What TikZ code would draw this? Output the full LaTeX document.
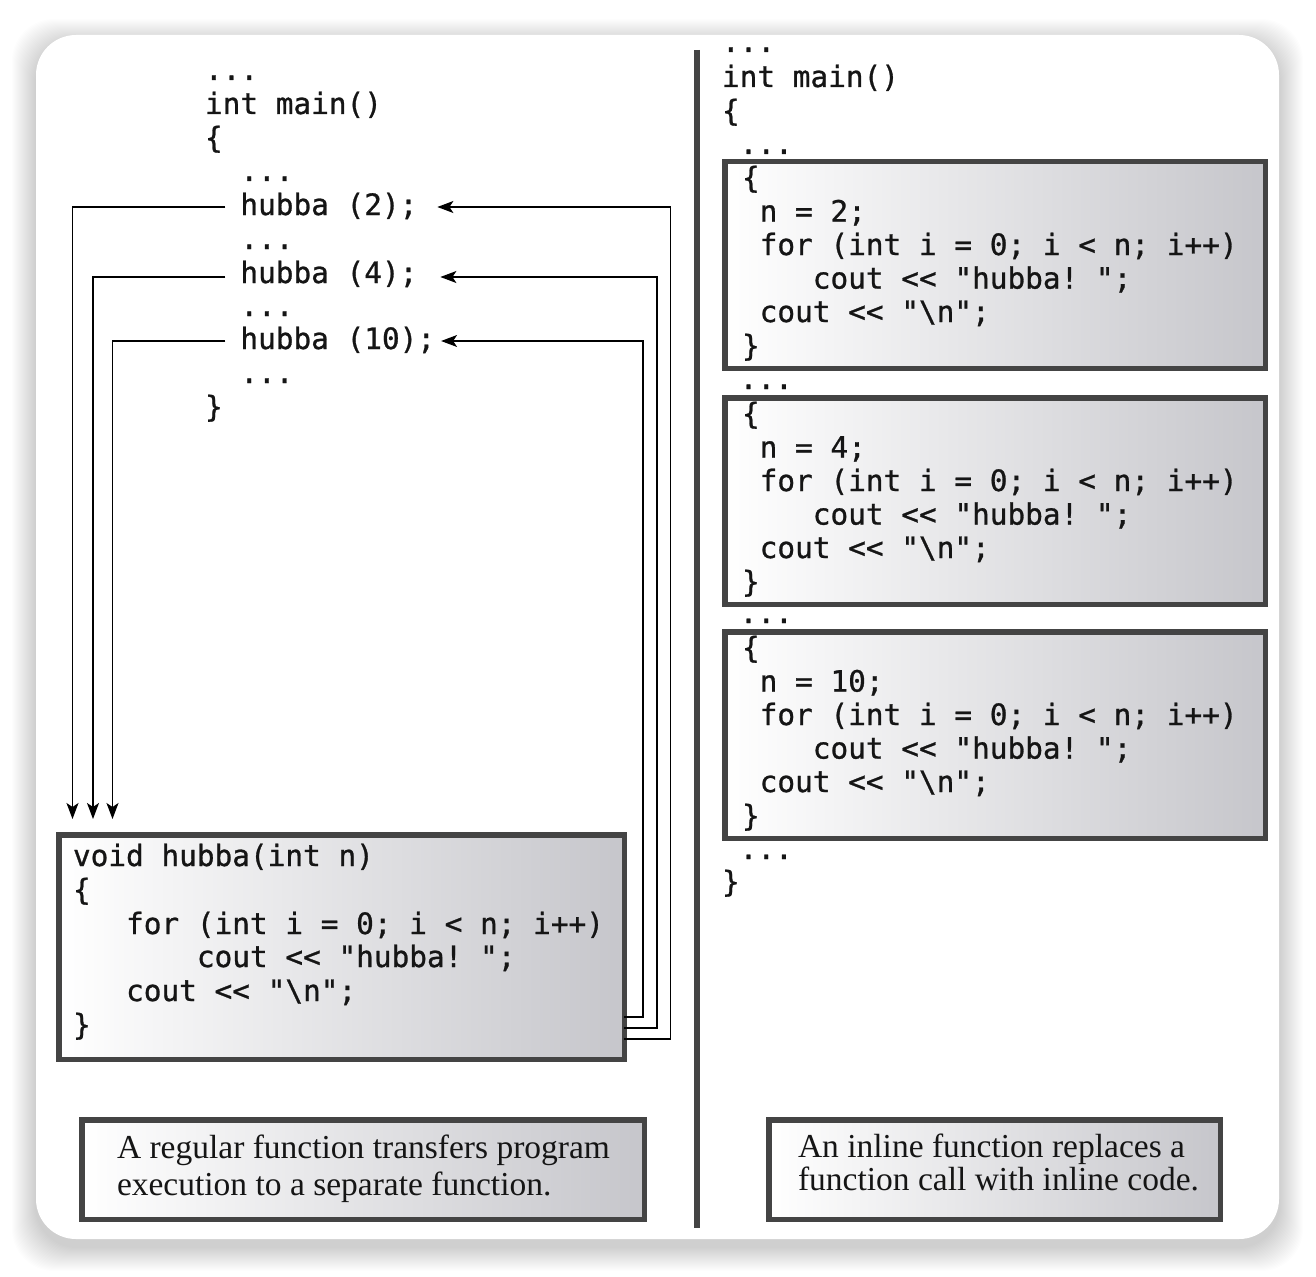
\documentclass[tikz,border=0pt]{standalone}
\usepackage{fontspec}
\usetikzlibrary{arrows.meta}
\newfontfamily\codefont{DejaVu Sans Mono}[FakeBold=0.9]
\newfontfamily\capfont{Liberation Serif}
\definecolor{ink}{HTML}{151515}
\definecolor{frame}{HTML}{444444}
\definecolor{shadeR}{RGB}{198,198,203}
\begin{document}
\begin{tikzpicture}[x=1pt,y=-1pt,
  code/.style={anchor=base west, inner sep=0pt, outer sep=0pt, text=ink,
    font=\fontsize{29.4}{34}\selectfont\codefont\frenchspacing},
  captext/.style={anchor=base west, inner sep=0pt, outer sep=0pt, text=ink,
    font=\fontsize{33.5}{37}\selectfont\capfont\frenchspacing},
  panel/.style={draw=frame, line width=5.5pt, left color=white, right color=shadeR,
    inner sep=0pt, outer sep=0pt, anchor=north west},
  conn/.style={line width=1.3pt, draw=black},
  arr/.style={conn, -{Stealth[length=16pt,width=12pt,inset=4pt]}},
]
\useasboundingbox (0,0) rectangle (1316,1276);
\fill[white] (0,0) rectangle (1316,1276);
% card shadow
\foreach \i in {1,...,24}{
  \fill[black, opacity=0.008, rounded corners=42pt]
    ({36-\i},{35-\i+8}) rectangle ({1279+\i},{1239+\i+8});
}
\fill[white, rounded corners=40pt] (36,35) rectangle (1279,1239);

% divider
\draw[line width=6pt, frame] (696.5,50) -- (696.5,1228);

% ---------- left: regular function ----------
\node[code] (lm0) at (205,80) {...};
\node[code] (lm1) at (205,114) {int main()};
\node[code] (lm2) at (205,148) {\{};
\node[code] (lm3) at (240.4,181) {...};
\node[code] (h2) at (240.4,215) {hubba (2);};
\node[code] (lm5) at (240.4,249) {...};
\node[code] (h4) at (240.4,283) {hubba (4);};
\node[code] (lm7) at (240.4,316) {...};
\node[code] (h10) at (240.4,349) {hubba (10);};
\node[code] (lm9) at (240.4,383) {...};
\node[code] (lm10) at (205,417) {\}};

\node[panel, minimum width=565.5pt, minimum height=224.5pt] (fb) at (58.75,834.75) {};
\node[code] (f1) at (73,866) {void hubba(int n)};
\node[code] (f2) at (73,900) {\{};
\node[code] (f3) at (126.1,934) {for (int i = 0; i < n; i++)};
\node[code] (f4) at (196.9,967) {cout << "hubba! ";};
\node[code] (f5) at (126.1,1001) {cout << "\textbackslash{}n";};
\node[code] (f6) at (73,1035) {\}};

% connectors: calls to function
\coordinate (l2) at (72.5,819);
\coordinate (l4) at (93,819);
\coordinate (l10) at (112.5,819);
\draw[arr] ([shift={(-15,-8)}]h2.base west) -| (l2);
\draw[arr] ([shift={(-15,-6)}]h4.base west) -| (l4);
\draw[arr] ([shift={(-15,-8)}]h10.base west) -| (l10);

% connectors: returns
\coordinate (r2) at (670.5,1039);
\coordinate (r4) at (657,1028);
\coordinate (r10) at (643,1017);
\draw[arr] (fb.east |- r2) -- (r2) |- ([shift={(20,-8)}]h2.base east);
\draw[arr] (fb.east |- r4) -- (r4) |- ([shift={(23,-6)}]h4.base east);
\draw[arr] (fb.east |- r10) -- (r10) |- ([shift={(6,-8)}]h10.base east);

\node[panel, minimum width=562.5pt, minimum height=99.5pt] (c1) at (81.75,1119.75) {};
\node[captext] (c1a) at (117,1158) {A regular function transfers program};
\node[captext] (c1b) at (117,1195) {execution to a separate function.};

% ---------- right: inline function ----------
\node[code] (rm0) at (722,52) {...};
\node[code] (rm1) at (722,87) {int main()};
\node[code] (rm2) at (722,121) {\{};
\node[code] (rm3) at (739.7,154) {...};
\node[code] (rm4) at (739.7,389) {...};
\node[code] (rm5) at (739.7,623) {...};
\node[code] (rm6) at (739.7,859) {...};
\node[code] (rm7) at (722,892) {\}};

\foreach \T/\nv/\k in {159/2/1, 395/4/2, 629/10/3}{
  \node[panel, minimum width=540.5pt, minimum height=206.5pt] (b\k) at (724.75,{\T+2.75}) {};
  \node[code] (b\k-1) at (742,{\T+29}) {\{};
  \node[code] (b\k-2) at (759.7,{\T+62.6}) {n = \nv;};
  \node[code] (b\k-3) at (759.7,{\T+96}) {for (int i = 0; i < n; i++)};
  \node[code] (b\k-4) at (812.8,{\T+129.6}) {cout << "hubba! ";};
  \node[code] (b\k-5) at (759.7,{\T+163}) {cout << "\textbackslash{}n";};
  \node[code] (b\k-6) at (742,{\T+197}) {\}};
}

\node[panel, minimum width=451.5pt, minimum height=99.5pt] (c2) at (768.75,1119.75) {};
\node[captext] (c2a) at (798,1157) {An inline function replaces a};
\node[captext] (c2b) at (798,1190) {function call with inline code.};
\end{tikzpicture}
\end{document}
